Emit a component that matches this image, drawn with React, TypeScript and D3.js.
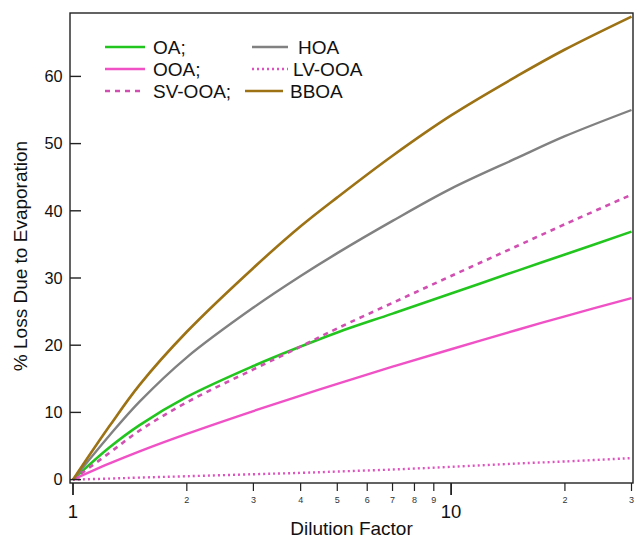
import React from "react";
import * as d3 from "d3";

const DILUTION = [1, 1.25, 1.5, 2, 3, 4, 5, 7, 10, 15, 20, 30];
const OA = [0, 4.8, 8.1, 12.3, 16.9, 19.8, 21.9, 24.7, 27.7, 31.1, 33.5, 36.9];
const OOA = [0, 2.4, 4.2, 6.8, 10.2, 12.5, 14.25, 16.8, 19.4, 22.3, 24.3, 27.0];
const SV_OOA = [0, 4.0, 7.3, 11.5, 16.4, 19.8, 22.5, 26.3, 30.3, 34.8, 38.0, 42.4];
const HOA = [0, 6.6, 11.6, 18.2, 25.6, 30.3, 33.7, 38.5, 43.3, 47.9, 51.1, 55.0];
const LV_OOA = [0, 0.15, 0.3, 0.5, 0.8, 1.0, 1.2, 1.5, 1.9, 2.4, 2.7, 3.2];
const BBOA = [0, 8.0, 14.1, 22.0, 31.5, 37.7, 42.0, 48.2, 54.2, 60.1, 64.0, 68.9];

const Y_TICKS = [0, 10, 20, 30, 40, 50, 60];
const X_MAJOR = [1, 10];
const X_MINOR = [2, 3, 4, 5, 6, 7, 8, 9, 20, 30];
const X_MINOR_LABELS = ["2", "3", "4", "5", "6", "7", "8", "9", "2", "3"];

const FONT = "'Liberation Sans', Arial, sans-serif";

type Series = {
  name: string;
  values: number[];
  color: string;
  dash?: string;
  width: number;
  lx1: number;
  lx2: number;
  tx: number;
  ty: number;
};

const SERIES: Series[] = [
  { name: "OA;", values: OA, color: "#22c51e", width: 2.6, lx1: 105, lx2: 145, tx: 153, ty: 47 },
  { name: "OOA;", values: OOA, color: "#f052c6", width: 2.4, lx1: 105, lx2: 145, tx: 153, ty: 69 },
  { name: "SV-OOA;", values: SV_OOA, color: "#d24fb2", dash: "5,5", width: 2.6, lx1: 105, lx2: 145, tx: 153, ty: 91 },
  { name: "HOA", values: HOA, color: "#818181", width: 2.4, lx1: 252, lx2: 288, tx: 298, ty: 47 },
  { name: "LV-OOA", values: LV_OOA, color: "#e050c0", dash: "2,3", width: 2.4, lx1: 252, lx2: 288, tx: 293, ty: 69 },
  { name: "BBOA", values: BBOA, color: "#9c7214", width: 2.6, lx1: 245, lx2: 283, tx: 290, ty: 91 },
];

export default function App() {
  const left = 70, right = 633, top = 13, bottom = 483;
  const x = d3.scaleLog().domain([1, 30]).range([73, 631.5]);
  const y = d3.scaleLinear().domain([0, 10]).range([479.6, 412.4]);

  const line = (vals: number[]) =>
    d3
      .line<number>()
      .x((_, i) => x(DILUTION[i]))
      .y((v) => y(v))
      .curve(d3.curveCatmullRom.alpha(0.5))(vals) || "";

  return (
    <svg
      width={637}
      height={540}
      style={{ position: "absolute", left: 0, top: 0, background: "#fff" }}
      fontFamily={FONT}
    >
      <rect x={0} y={0} width={637} height={540} fill="#fff" />
      <defs>
        <clipPath id="plotclip">
          <rect x={left} y={top} width={right - left} height={bottom - top} />
        </clipPath>
      </defs>

      {/* series */}
      <g clipPath="url(#plotclip)">
        {SERIES.map((s) => (
          <path
            key={s.name}
            d={line(s.values)}
            fill="none"
            stroke={s.color}
            strokeWidth={s.width}
            strokeDasharray={s.dash}
          />
        ))}
      </g>

      {/* frame */}
      <rect x={left} y={top} width={right - left} height={bottom - top} fill="none" stroke="#222" strokeWidth={1.4} />

      {/* y ticks */}
      {Y_TICKS.map((t) => (
        <g key={"y" + t}>
          <line x1={left} x2={left + 11} y1={y(t)} y2={y(t)} stroke="#222" strokeWidth={1.4} />
          <text x={62.5} y={y(t)} dy="0.36em" textAnchor="end" fontSize={16.3} fill="#111">
            {t}
          </text>
        </g>
      ))}

      {/* x ticks */}
      {X_MAJOR.map((t) => (
        <g key={"xm" + t}>
          <line x1={x(t)} x2={x(t)} y1={bottom} y2={bottom + 12} stroke="#222" strokeWidth={1.8} />
          <text x={x(t)} y={518} textAnchor="middle" fontSize={18.5} fill="#111">
            {t}
          </text>
        </g>
      ))}
      {X_MINOR.map((t, i) => (
        <g key={"xn" + t}>
          <line x1={x(t)} x2={x(t)} y1={bottom} y2={bottom + 8} stroke="#222" strokeWidth={1.2} />
          <text x={x(t)} y={502.5} textAnchor="middle" fontSize={9} fill="#333">
            {X_MINOR_LABELS[i]}
          </text>
        </g>
      ))}

      {/* axis titles */}
      <text x={351.5} y={535} textAnchor="middle" fontSize={19} fill="#111">
        Dilution Factor
      </text>
      <text
        transform={`translate(27,256) rotate(-90)`}
        textAnchor="middle"
        fontSize={19}
        fill="#111"
      >
        % Loss Due to Evaporation
      </text>

      {/* legend */}
      {SERIES.map((s) => (
        <g key={"lg" + s.name}>
          <line
            x1={s.lx1}
            x2={s.lx2}
            y1={s.ty}
            y2={s.ty}
            stroke={s.color}
            strokeWidth={s.width}
            strokeDasharray={s.dash}
          />
          <text x={s.tx} y={s.ty} dy="0.36em" fontSize={19} fill="#111">
            {s.name}
          </text>
        </g>
      ))}
    </svg>
  );
}
